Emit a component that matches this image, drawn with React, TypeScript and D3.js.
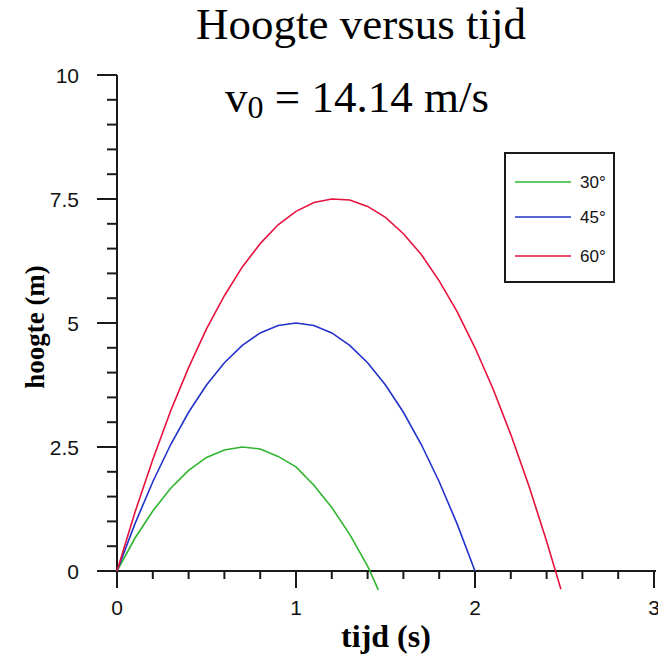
import React from "react";
import * as d3 from "d3";

const timeGreen = [0, 0.1, 0.2, 0.3, 0.4, 0.5, 0.6, 0.7, 0.8, 0.9, 1.0, 1.1, 1.2, 1.3, 1.4, 1.46];
const heightGreen = [0, 0.66, 1.21, 1.67, 2.03, 2.29, 2.44, 2.5, 2.46, 2.31, 2.1, 1.73, 1.28, 0.74, 0.1, -0.38];

const timeBlue = [0, 0.1, 0.2, 0.3, 0.4, 0.5, 0.6, 0.7, 0.8, 0.9, 1.0, 1.1, 1.2, 1.3, 1.4, 1.5, 1.6, 1.7, 1.8, 1.9, 2.0];
const heightBlue = [0, 0.95, 1.8, 2.55, 3.2, 3.75, 4.2, 4.55, 4.8, 4.95, 5.0, 4.95, 4.8, 4.55, 4.2, 3.75, 3.2, 2.55, 1.8, 0.95, 0];

const timeRed = [0, 0.1, 0.2, 0.3, 0.4, 0.5, 0.6, 0.7, 0.8, 0.9, 1.0, 1.1, 1.2, 1.3, 1.4, 1.5, 1.6, 1.7, 1.8, 1.9, 2.0, 2.1, 2.2, 2.3, 2.4, 2.48];
const heightRed = [0, 1.18, 2.25, 3.23, 4.1, 4.88, 5.55, 6.13, 6.6, 6.98, 7.25, 7.43, 7.5, 7.48, 7.35, 7.13, 6.8, 6.38, 5.85, 5.23, 4.5, 3.68, 2.75, 1.73, 0.6, -0.37];

const seriesLabels = ["30°", "45°", "60°"];
const seriesColors = ["#2fb52f", "#2233c8", "#e6123e"];

const xTicks = [0, 1, 2, 3];
const yTicks = [0, 2.5, 5, 7.5, 10];
const yTickLabels = ["0", "2.5", "5", "7.5", "10"];

export default function App() {
  const x = d3.scaleLinear().domain([0, 3]).range([117, 654]);
  const y = d3.scaleLinear().domain([0, 10]).range([571, 75]);
  const line = d3
    .line<[number, number]>()
    .x((d) => x(d[0]))
    .y((d) => y(d[1]));

  const series = [
    d3.zip(timeGreen, heightGreen) as [number, number][],
    d3.zip(timeBlue, heightBlue) as [number, number][],
    d3.zip(timeRed, heightRed) as [number, number][],
  ];

  const xMinor = d3.range(0, 3.0001, 0.2);
  const yMinor = d3.range(0, 10.0001, 0.5);
  const axisColor = "#1a1a1a";
  const sans = "'Liberation Sans', Arial, sans-serif";
  const serif = "'Liberation Serif', 'Times New Roman', serif";

  const legendY = [182, 217, 256];

  return (
    <svg
      width={658}
      height={662}
      style={{ position: "absolute", left: 0, top: 0, background: "#fff" }}
    >
      <rect x={0} y={0} width={658} height={662} fill="#fff" />
      <text x={361} y={39} textAnchor="middle" fontFamily={serif} fontSize={45} fill="#000">
        Hoogte versus tijd
      </text>
      <text x={357} y={112} textAnchor="middle" fontFamily={serif} fontSize={45} fill="#000">
        v<tspan fontSize={32} dy={6}>0</tspan>
        <tspan dy={-6}> = 14.14 m/s</tspan>
      </text>

      {/* y axis */}
      <line x1={x(0)} x2={x(0)} y1={y(10)} y2={y(0)} stroke={axisColor} strokeWidth={2} />
      {yMinor.map((v, i) => (
        <line key={"ym" + i} x1={x(0) - 10} x2={x(0)} y1={y(v)} y2={y(v)} stroke={axisColor} strokeWidth={2} />
      ))}
      {yTicks.map((v, i) => (
        <g key={"yt" + i}>
          <line x1={x(0) - 20} x2={x(0)} y1={y(v)} y2={y(v)} stroke={axisColor} strokeWidth={2} />
          <text x={79} y={y(v) + 8} textAnchor="end" fontFamily={sans} fontSize={21} fill="#111">
            {yTickLabels[i]}
          </text>
        </g>
      ))}

      {/* x axis */}
      <line x1={x(0) - 20} x2={x(3) + 2} y1={y(0)} y2={y(0)} stroke={axisColor} strokeWidth={2} />
      {xMinor.map((v, i) => (
        <line key={"xm" + i} x1={x(v)} x2={x(v)} y1={y(0)} y2={y(0) + 8} stroke={axisColor} strokeWidth={2} />
      ))}
      {xTicks.map((v, i) => (
        <g key={"xt" + i}>
          <line x1={x(v)} x2={x(v)} y1={y(0)} y2={y(0) + 17} stroke={axisColor} strokeWidth={2} />
          <text x={x(v)} y={615} textAnchor="middle" fontFamily={sans} fontSize={21} fill="#111">
            {String(v)}
          </text>
        </g>
      ))}

      <text x={386} y={647} textAnchor="middle" fontFamily={serif} fontWeight="bold" fontSize={32} fill="#000">
        tijd (s)
      </text>
      <text
        transform={`translate(44, 327) rotate(-90)`}
        textAnchor="middle"
        fontFamily={serif}
        fontWeight="bold"
        fontSize={27}
        fill="#000"
      >
        hoogte (m)
      </text>

      {series.map((pts, i) => (
        <path key={"s" + i} d={line(pts) || ""} fill="none" stroke={seriesColors[i]} strokeWidth={1.6} />
      ))}

      {/* legend */}
      <rect x={505} y={153} width={109} height={129} fill="#fff" stroke={axisColor} strokeWidth={2} />
      {seriesLabels.map((lab, i) => (
        <g key={"lg" + i}>
          <line x1={515} x2={571} y1={legendY[i]} y2={legendY[i]} stroke={seriesColors[i]} strokeWidth={1.6} />
          <text x={580} y={legendY[i] + 6} fontFamily={sans} fontSize={17} fill="#111">
            {lab}
          </text>
        </g>
      ))}
    </svg>
  );
}
